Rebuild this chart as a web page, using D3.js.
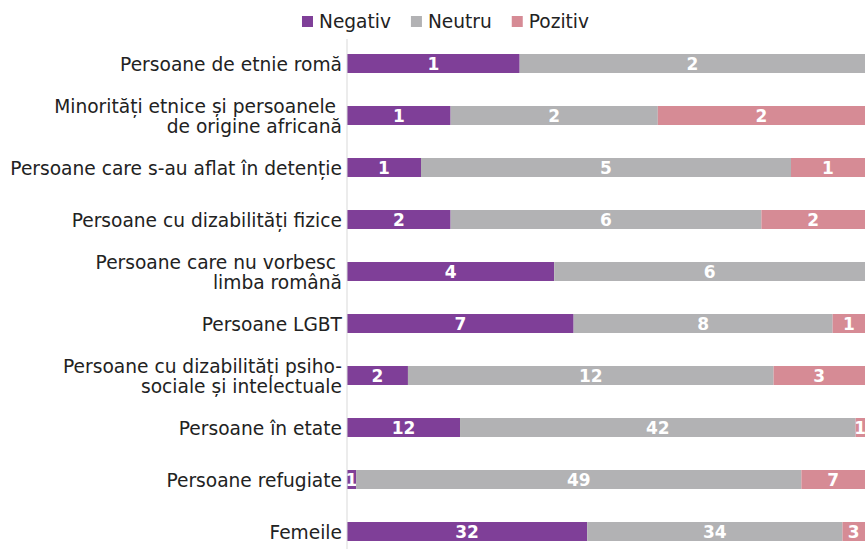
<!DOCTYPE html>
<html>
<head>
<meta charset="utf-8">
<script src="https://cdn.jsdelivr.net/npm/d3@7"></script>
<style>
  body { margin: 0; background: #fff; }
  text { font-family: "DejaVu Sans", sans-serif; }
</style>
</head>
<body>
<script>
// categories, top to bottom
var categories = [
  "Persoane de etnie romă",
  "Minorități etnice și persoanele \nde origine africană",
  "Persoane care s-au aflat în detenție",
  "Persoane cu dizabilități fizice",
  "Persoane care nu vorbesc \nlimba română",
  "Persoane LGBT",
  "Persoane cu dizabilități psiho-\nsociale și intelectuale",
  "Persoane în etate",
  "Persoane refugiate",
  "Femeile"
];
var seriesNames = ["Negativ", "Neutru", "Pozitiv"];
var negativ = [1, 1, 1, 2, 4, 7, 2, 12, 1, 32];
var neutru  = [2, 2, 5, 6, 6, 8, 12, 42, 49, 34];
var pozitiv = [0, 2, 1, 2, 0, 1, 3, 1, 7, 3];
var colors = ["#7f3f98", "#b2b2b4", "#d68b95"];

var width = 865, height = 549,
    left = 347, right = 865,
    top0 = 37.5, bottom0 = 557.5;

var rows = categories.map(function (c, i) {
  return { cat: c, Negativ: negativ[i], Neutru: neutru[i], Pozitiv: pozitiv[i] };
});

var stack = d3.stack().keys(seriesNames).offset(d3.stackOffsetExpand);
var layers = stack(rows);

var x = d3.scaleLinear().domain([0, 1]).range([left, right]);
var y = d3.scaleBand().domain(categories).range([top0, bottom0])
  .paddingInner(0.635).paddingOuter(0.3175);
var color = d3.scaleOrdinal().domain(seriesNames).range(colors);

var svg = d3.select("body").append("svg")
  .attr("width", width)
  .attr("height", height);

// measure helper, to size text like the original
function measure(str, size, weight) {
  var t = svg.append("text").attr("font-size", size).attr("font-weight", weight || "normal").text(str);
  var w = t.node().getComputedTextLength();
  t.remove();
  return w;
}
var labelSize = 16 * 332 / measure("Persoane care s-au aflat în detenție", 16);
var legendSize = 16 * 72 / measure("Negativ", 16);

// bars
var g = svg.append("g");
layers.forEach(function (layer) {
  g.selectAll(null)
    .data(layer)
    .join("rect")
    .attr("x", function (d) { return x(d[0]); })
    .attr("y", function (d) { return y(d.data.cat); })
    .attr("width", function (d) { return x(d[1]) - x(d[0]); })
    .attr("height", y.bandwidth())
    .attr("fill", color(layer.key));

  g.selectAll(null)
    .data(layer.filter(function (d) { return d.data[layer.key] > 0; }))
    .join("text")
    .attr("x", function (d) { return (x(d[0]) + x(d[1])) / 2; })
    .attr("y", function (d) { return y(d.data.cat) + y.bandwidth() / 2; })
    .attr("dy", "0.36em")
    .attr("text-anchor", "middle")
    .attr("font-size", 17)
    .attr("font-weight", "bold")
    .attr("fill", "#fff")
    .text(function (d) { return d.data[layer.key]; });
});

// axis line
svg.append("line")
  .attr("x1", left).attr("x2", left)
  .attr("y1", 39).attr("y2", height)
  .attr("stroke", "#d9d9d9")
  .attr("stroke-width", 1);

// category labels
var labels = svg.append("g");
categories.forEach(function (c) {
  var lines = c.split("\n");
  var cy = y(c) + y.bandwidth() / 2;
  var lh = 20;
  lines.forEach(function (l, i) {
    labels.append("text")
      .attr("text-anchor", "end")
      .attr("font-size", labelSize)
      .attr("fill", "#222")
      .attr("x", 342)
      .attr("y", cy + (i - (lines.length - 1) / 2) * lh + 1)
      .attr("dy", "0.35em")
      .attr("xml:space", "preserve")
      .text(l);
  });
});

// legend
var legend = svg.append("g");
var gap = 20, sq = 11, pad = 6;
var widths = seriesNames.map(function (s) { return measure(s, legendSize); });
var total = d3.sum(widths) + seriesNames.length * (sq + pad) + gap * (seriesNames.length - 1);
var lx = 445.5 - total / 2;
seriesNames.forEach(function (s, i) {
  legend.append("rect")
    .attr("x", lx).attr("y", 16)
    .attr("width", sq).attr("height", sq)
    .attr("fill", color(s));
  legend.append("text")
    .attr("x", lx + sq + pad)
    .attr("y", 21.5)
    .attr("dy", "0.35em")
    .attr("font-size", legendSize)
    .attr("fill", "#222")
    .text(s);
  lx += sq + pad + widths[i] + gap;
});
</script>
</body>
</html>
